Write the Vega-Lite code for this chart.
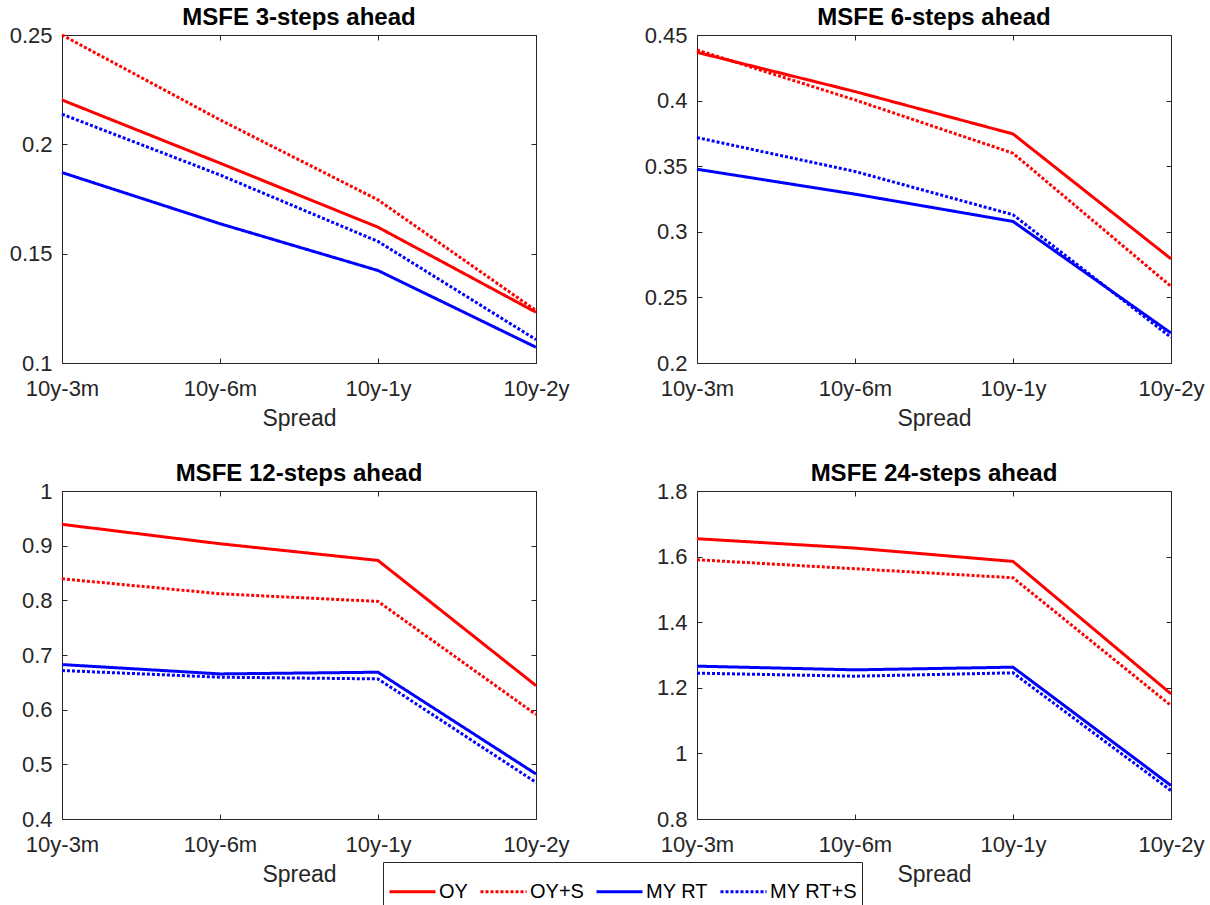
{
  "$schema": "https://vega.github.io/schema/vega-lite/v6.json",
  "autosize": {"type": "none"},
  "padding": {"left": 62, "top": 35, "right": 1148, "bottom": 870},
  "background": "white",
  "bounds": "flush",
  "columns": 2,
  "spacing": {"row": 128, "column": 161},
  "data": {"values": [
    {"h": 3, "s": "10y-3m", "m": "OY", "v": 0.2203}, {"h": 3, "s": "10y-6m", "m": "OY", "v": 0.1914}, {"h": 3, "s": "10y-1y", "m": "OY", "v": 0.1621}, {"h": 3, "s": "10y-2y", "m": "OY", "v": 0.1232},
    {"h": 3, "s": "10y-3m", "m": "OY+S", "v": 0.2500}, {"h": 3, "s": "10y-6m", "m": "OY+S", "v": 0.2112}, {"h": 3, "s": "10y-1y", "m": "OY+S", "v": 0.1746}, {"h": 3, "s": "10y-2y", "m": "OY+S", "v": 0.1240},
    {"h": 3, "s": "10y-3m", "m": "MY RT", "v": 0.1871}, {"h": 3, "s": "10y-6m", "m": "MY RT", "v": 0.1637}, {"h": 3, "s": "10y-1y", "m": "MY RT", "v": 0.1423}, {"h": 3, "s": "10y-2y", "m": "MY RT", "v": 0.1072},
    {"h": 3, "s": "10y-3m", "m": "MY RT+S", "v": 0.2138}, {"h": 3, "s": "10y-6m", "m": "MY RT+S", "v": 0.1860}, {"h": 3, "s": "10y-1y", "m": "MY RT+S", "v": 0.1556}, {"h": 3, "s": "10y-2y", "m": "MY RT+S", "v": 0.1107},
    {"h": 6, "s": "10y-3m", "m": "OY", "v": 0.4368}, {"h": 6, "s": "10y-6m", "m": "OY", "v": 0.4069}, {"h": 6, "s": "10y-1y", "m": "OY", "v": 0.3746}, {"h": 6, "s": "10y-2y", "m": "OY", "v": 0.2794},
    {"h": 6, "s": "10y-3m", "m": "OY+S", "v": 0.4386}, {"h": 6, "s": "10y-6m", "m": "OY+S", "v": 0.4005}, {"h": 6, "s": "10y-1y", "m": "OY+S", "v": 0.3599}, {"h": 6, "s": "10y-2y", "m": "OY+S", "v": 0.2584},
    {"h": 6, "s": "10y-3m", "m": "MY RT", "v": 0.3477}, {"h": 6, "s": "10y-6m", "m": "MY RT", "v": 0.3287}, {"h": 6, "s": "10y-1y", "m": "MY RT", "v": 0.3079}, {"h": 6, "s": "10y-2y", "m": "MY RT", "v": 0.2228},
    {"h": 6, "s": "10y-3m", "m": "MY RT+S", "v": 0.3718}, {"h": 6, "s": "10y-6m", "m": "MY RT+S", "v": 0.3460}, {"h": 6, "s": "10y-1y", "m": "MY RT+S", "v": 0.3130}, {"h": 6, "s": "10y-2y", "m": "MY RT+S", "v": 0.2195},
    {"h": 12, "s": "10y-3m", "m": "OY", "v": 0.939}, {"h": 12, "s": "10y-6m", "m": "OY", "v": 0.9035}, {"h": 12, "s": "10y-1y", "m": "OY", "v": 0.873}, {"h": 12, "s": "10y-2y", "m": "OY", "v": 0.644},
    {"h": 12, "s": "10y-3m", "m": "OY+S", "v": 0.8394}, {"h": 12, "s": "10y-6m", "m": "OY+S", "v": 0.812}, {"h": 12, "s": "10y-1y", "m": "OY+S", "v": 0.798}, {"h": 12, "s": "10y-2y", "m": "OY+S", "v": 0.591},
    {"h": 12, "s": "10y-3m", "m": "MY RT", "v": 0.6825}, {"h": 12, "s": "10y-6m", "m": "MY RT", "v": 0.6654}, {"h": 12, "s": "10y-1y", "m": "MY RT", "v": 0.6685}, {"h": 12, "s": "10y-2y", "m": "MY RT", "v": 0.4823},
    {"h": 12, "s": "10y-3m", "m": "MY RT+S", "v": 0.6716}, {"h": 12, "s": "10y-6m", "m": "MY RT+S", "v": 0.6594}, {"h": 12, "s": "10y-1y", "m": "MY RT+S", "v": 0.6563}, {"h": 12, "s": "10y-2y", "m": "MY RT+S", "v": 0.467},
    {"h": 24, "s": "10y-3m", "m": "OY", "v": 1.6545}, {"h": 24, "s": "10y-6m", "m": "OY", "v": 1.626}, {"h": 24, "s": "10y-1y", "m": "OY", "v": 1.5853}, {"h": 24, "s": "10y-2y", "m": "OY", "v": 1.1815},
    {"h": 24, "s": "10y-3m", "m": "OY+S", "v": 1.5904}, {"h": 24, "s": "10y-6m", "m": "OY+S", "v": 1.563}, {"h": 24, "s": "10y-1y", "m": "OY+S", "v": 1.5355}, {"h": 24, "s": "10y-2y", "m": "OY+S", "v": 1.146},
    {"h": 24, "s": "10y-3m", "m": "MY RT", "v": 1.266}, {"h": 24, "s": "10y-6m", "m": "MY RT", "v": 1.2547}, {"h": 24, "s": "10y-1y", "m": "MY RT", "v": 1.2629}, {"h": 24, "s": "10y-2y", "m": "MY RT", "v": 0.902},
    {"h": 24, "s": "10y-3m", "m": "MY RT+S", "v": 1.2446}, {"h": 24, "s": "10y-6m", "m": "MY RT+S", "v": 1.2354}, {"h": 24, "s": "10y-1y", "m": "MY RT+S", "v": 1.2456}, {"h": 24, "s": "10y-2y", "m": "MY RT+S", "v": 0.8865}
  ]},
  "concat": [
    {
      "width": 474, "height": 328,
      "title": {"text": "MSFE 3-steps ahead"},
      "transform": [{"filter": "datum.h == 3"}],
      "layer": [
        {"mark": {"type": "line", "strokeWidth": 3},
         "encoding": {
           "x": {"field": "s", "type": "ordinal", "sort": ["10y-3m", "10y-6m", "10y-1y", "10y-2y"], "scale": {"type": "point", "padding": 0}, "axis": {"orient": "bottom", "title": "Spread", "labelAngle": 0}},
           "y": {"field": "v", "type": "quantitative", "scale": {"domain": [0.1, 0.25], "nice": false, "zero": false}, "axis": {"orient": "left", "title": null, "values": [0.1, 0.15, 0.2, 0.25], "format": "~g"}},
           "color": {"field": "m", "type": "nominal", "scale": {"domain": ["OY", "OY+S", "MY RT", "MY RT+S"], "range": ["#ff0000", "#ff0000", "#0000ff", "#0000ff"]}, "legend": {"title": null, "orient": "none", "legendX": 321, "legendY": 827, "direction": "horizontal", "columns": 4}},
           "strokeDash": {"field": "m", "type": "nominal", "scale": {"domain": ["OY", "OY+S", "MY RT", "MY RT+S"], "range": [[1, 0], [3, 2], [1, 0], [3, 2]]}, "legend": {"title": null, "orient": "none", "legendX": 321, "legendY": 827, "direction": "horizontal", "columns": 4}}
         }},
        {"mark": {"type": "point", "opacity": 0},
         "encoding": {
           "x": {"field": "s", "type": "ordinal", "sort": ["10y-3m", "10y-6m", "10y-1y", "10y-2y"], "axis": {"orient": "top", "labels": false, "title": null}},
           "y": {"field": "v", "type": "quantitative", "axis": {"orient": "right", "labels": false, "title": null, "values": [0.1, 0.15, 0.2, 0.25]}}
         }}
      ],
      "resolve": {"axis": {"x": "independent", "y": "independent"}}
    },
    {
      "width": 474, "height": 328,
      "title": {"text": "MSFE 6-steps ahead"},
      "transform": [{"filter": "datum.h == 6"}],
      "layer": [
        {"mark": {"type": "line", "strokeWidth": 3},
         "encoding": {
           "x": {"field": "s", "type": "ordinal", "sort": ["10y-3m", "10y-6m", "10y-1y", "10y-2y"], "scale": {"type": "point", "padding": 0}, "axis": {"orient": "bottom", "title": "Spread", "labelAngle": 0}},
           "y": {"field": "v", "type": "quantitative", "scale": {"domain": [0.2, 0.45], "nice": false, "zero": false}, "axis": {"orient": "left", "title": null, "values": [0.2, 0.25, 0.3, 0.35, 0.4, 0.45], "format": "~g"}},
           "color": {"field": "m", "type": "nominal", "scale": {"domain": ["OY", "OY+S", "MY RT", "MY RT+S"], "range": ["#ff0000", "#ff0000", "#0000ff", "#0000ff"]}, "legend": {"title": null, "orient": "none", "legendX": 321, "legendY": 827, "direction": "horizontal", "columns": 4}},
           "strokeDash": {"field": "m", "type": "nominal", "scale": {"domain": ["OY", "OY+S", "MY RT", "MY RT+S"], "range": [[1, 0], [3, 2], [1, 0], [3, 2]]}, "legend": {"title": null, "orient": "none", "legendX": 321, "legendY": 827, "direction": "horizontal", "columns": 4}}
         }},
        {"mark": {"type": "point", "opacity": 0},
         "encoding": {
           "x": {"field": "s", "type": "ordinal", "sort": ["10y-3m", "10y-6m", "10y-1y", "10y-2y"], "axis": {"orient": "top", "labels": false, "title": null}},
           "y": {"field": "v", "type": "quantitative", "axis": {"orient": "right", "labels": false, "title": null, "values": [0.2, 0.25, 0.3, 0.35, 0.4, 0.45]}}
         }}
      ],
      "resolve": {"axis": {"x": "independent", "y": "independent"}}
    },
    {
      "width": 474, "height": 328,
      "title": {"text": "MSFE 12-steps ahead"},
      "transform": [{"filter": "datum.h == 12"}],
      "layer": [
        {"mark": {"type": "line", "strokeWidth": 3},
         "encoding": {
           "x": {"field": "s", "type": "ordinal", "sort": ["10y-3m", "10y-6m", "10y-1y", "10y-2y"], "scale": {"type": "point", "padding": 0}, "axis": {"orient": "bottom", "title": "Spread", "labelAngle": 0}},
           "y": {"field": "v", "type": "quantitative", "scale": {"domain": [0.4, 1], "nice": false, "zero": false}, "axis": {"orient": "left", "title": null, "values": [0.4, 0.5, 0.6, 0.7, 0.8, 0.9, 1], "format": "~g"}},
           "color": {"field": "m", "type": "nominal", "scale": {"domain": ["OY", "OY+S", "MY RT", "MY RT+S"], "range": ["#ff0000", "#ff0000", "#0000ff", "#0000ff"]}, "legend": {"title": null, "orient": "none", "legendX": 321, "legendY": 827, "direction": "horizontal", "columns": 4}},
           "strokeDash": {"field": "m", "type": "nominal", "scale": {"domain": ["OY", "OY+S", "MY RT", "MY RT+S"], "range": [[1, 0], [3, 2], [1, 0], [3, 2]]}, "legend": {"title": null, "orient": "none", "legendX": 321, "legendY": 827, "direction": "horizontal", "columns": 4}}
         }},
        {"mark": {"type": "point", "opacity": 0},
         "encoding": {
           "x": {"field": "s", "type": "ordinal", "sort": ["10y-3m", "10y-6m", "10y-1y", "10y-2y"], "axis": {"orient": "top", "labels": false, "title": null}},
           "y": {"field": "v", "type": "quantitative", "axis": {"orient": "right", "labels": false, "title": null, "values": [0.4, 0.5, 0.6, 0.7, 0.8, 0.9, 1]}}
         }}
      ],
      "resolve": {"axis": {"x": "independent", "y": "independent"}}
    },
    {
      "width": 474, "height": 328,
      "title": {"text": "MSFE 24-steps ahead"},
      "transform": [{"filter": "datum.h == 24"}],
      "layer": [
        {"mark": {"type": "line", "strokeWidth": 3},
         "encoding": {
           "x": {"field": "s", "type": "ordinal", "sort": ["10y-3m", "10y-6m", "10y-1y", "10y-2y"], "scale": {"type": "point", "padding": 0}, "axis": {"orient": "bottom", "title": "Spread", "labelAngle": 0}},
           "y": {"field": "v", "type": "quantitative", "scale": {"domain": [0.8, 1.8], "nice": false, "zero": false}, "axis": {"orient": "left", "title": null, "values": [0.8, 1, 1.2, 1.4, 1.6, 1.8], "format": "~g"}},
           "color": {"field": "m", "type": "nominal", "scale": {"domain": ["OY", "OY+S", "MY RT", "MY RT+S"], "range": ["#ff0000", "#ff0000", "#0000ff", "#0000ff"]}, "legend": {"title": null, "orient": "none", "legendX": 321, "legendY": 827, "direction": "horizontal", "columns": 4}},
           "strokeDash": {"field": "m", "type": "nominal", "scale": {"domain": ["OY", "OY+S", "MY RT", "MY RT+S"], "range": [[1, 0], [3, 2], [1, 0], [3, 2]]}, "legend": {"title": null, "orient": "none", "legendX": 321, "legendY": 827, "direction": "horizontal", "columns": 4}}
         }},
        {"mark": {"type": "point", "opacity": 0},
         "encoding": {
           "x": {"field": "s", "type": "ordinal", "sort": ["10y-3m", "10y-6m", "10y-1y", "10y-2y"], "axis": {"orient": "top", "labels": false, "title": null}},
           "y": {"field": "v", "type": "quantitative", "axis": {"orient": "right", "labels": false, "title": null, "values": [0.8, 1, 1.2, 1.4, 1.6, 1.8]}}
         }}
      ],
      "resolve": {"axis": {"x": "independent", "y": "independent"}}
    }
  ],
  "config": {
    "font": "Liberation Sans",
    "view": {"stroke": "#262626", "strokeWidth": 1},
    "axis": {"domain": false, "grid": false, "tickColor": "#262626", "tickSize": -5, "tickWidth": 1, "labelColor": "#262626", "labelFont": "Liberation Sans", "labelFontSize": 22, "titleFont": "Liberation Sans", "titleFontSize": 23, "titleFontWeight": "normal", "titleColor": "#262626", "labelOverlap": false, "labelBound": false, "labelFlush": false},
    "axisX": {"labelPadding": 20, "titlePadding": 8},
    "axisY": {"labelPadding": 15},
    "title": {"font": "Liberation Sans", "fontSize": 24, "fontWeight": "bold", "color": "#000000", "anchor": "middle", "frame": "group", "baseline": "alphabetic", "offset": -6},
    "legend": {"symbolType": "stroke", "symbolSize": 2116, "symbolStrokeWidth": 3, "labelFont": "Liberation Sans", "labelFontSize": 20, "labelColor": "#000000", "labelOffset": 2, "columnPadding": 6, "padding": 5, "strokeColor": "#262626", "fillColor": "white"}
  }
}
